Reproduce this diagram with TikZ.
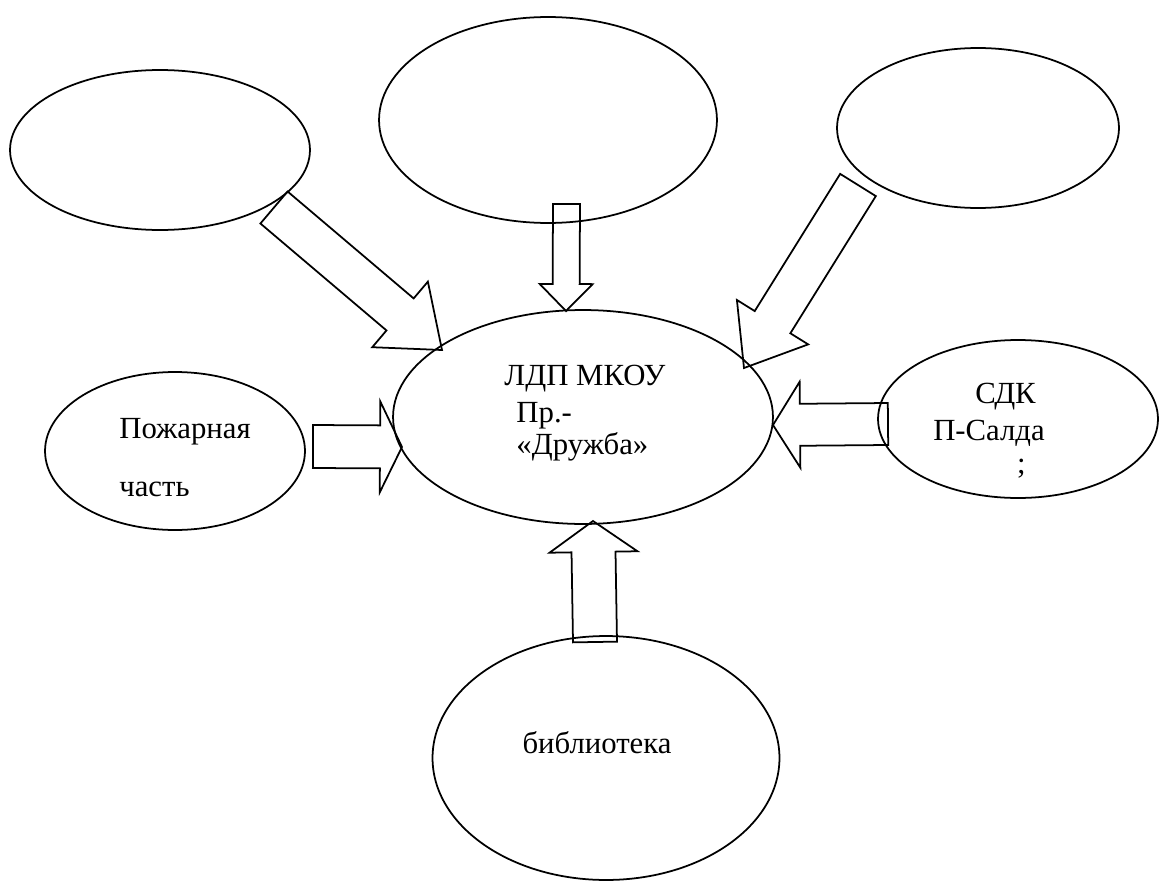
\documentclass[tikz,border=0pt]{standalone}
\usepackage{fontspec}
\setmainfont{Liberation Serif}
\newfontfamily\schemefont{Liberation Serif}
\usetikzlibrary{shapes.geometric}
\usetikzlibrary{calc}
\tikzset{x=0.02cm, y=-0.02cm,
    bubble/.style={
        ellipse,
        draw,
        line width=1pt,
        inner sep=0pt},
    txt/.style={
        font=\schemefont\fontsize{17.5}{21}\selectfont,
        align=left,
        inner sep=0pt},
    blockarr/.style={
        draw,
        line width=1pt,
        line join=miter}}

% tail, tip, shaft half width, head half width, head length
\newcommand\blockarrow[5]{%
    \draw[blockarr] ($(#1)!#3!90:(#2)$)
        -- ($(#2)!#5!(#1)!#3!-90:(#1)$)
        -- ($(#2)!#5!(#1)!#4!-90:(#1)$)
        -- (#2)
        -- ($(#2)!#5!(#1)!#4!90:(#1)$)
        -- ($(#2)!#5!(#1)!#3!90:(#1)$)
        -- ($(#1)!#3!-90:(#2)$) -- cycle;}

\begin{document}
\begin{tikzpicture}
    \useasboundingbox (0,0) rectangle (1160,889);

    \node[bubble, minimum width=6cm, minimum height=3.2cm] (blankl) at (160,150) {};
    \node[bubble, minimum width=6.76cm, minimum height=4.12cm] (blankc) at (548,120) {};
    \node[bubble, minimum width=5.64cm, minimum height=3.2cm] (blankr) at (978,128) {};
    \node[bubble, minimum width=7.6cm, minimum height=4.28cm] (ldp) at (583,417) {};
    \node[bubble, minimum width=5.2cm, minimum height=3.16cm] (fire) at (175,451) {};
    \node[bubble, minimum width=5.6cm, minimum height=3.16cm] (sdk) at (1018,419) {};
    \node[bubble, minimum width=6.94cm, minimum height=4.88cm] (lib) at (606,758) {};

    \node[txt] (ldptext) at ([shift={(2,-4)}]ldp.center)
        {ЛДП МКОУ\\\hspace*{0.24cm}Пр.-\\[-3pt]\hspace*{0.24cm}«Дружба»};
    \node[txt] (firetext) at ([shift={(10,7)}]fire.center) {Пожарная\\[12pt]часть};
    \node[txt] (sdktext) at ([shift={(-29,12)}]sdk.center)
        {\hspace*{0.84cm}СДК\\П-Салда\\[-2pt]\hspace*{1.68cm};};
    \node[txt] (libtext) at ([shift={(-9,-15)}]lib.center) {библиотека};

    \coordinate (blankl-out) at (274,207.5);
    \coordinate (blankc-out) at (566.5,204);
    \coordinate (blankr-out) at (858,185);
    \coordinate (fire-out) at (313,446.5);
    \coordinate (sdk-out) at (888,424);
    \coordinate (lib-out) at (595,642);
    \coordinate (ldp-nw) at (442,350);
    \coordinate (ldp-n) at (566,311);
    \coordinate (ldp-ne) at (744,368);
    \coordinate (ldp-w) at (402,447);
    \coordinate (ldp-e) at (773,425);
    \coordinate (ldp-s) at (593,521);

    \blockarrow{blankl-out}{ldp-nw}{0.42cm}{0.86cm}{1.1cm}
    \blockarrow{blankc-out}{ldp-n}{0.27cm}{0.53cm}{0.54cm}
    \blockarrow{blankr-out}{ldp-ne}{0.42cm}{0.84cm}{1.08cm}
    \blockarrow{fire-out}{ldp-w}{0.43cm}{0.91cm}{0.44cm}
    \blockarrow{sdk-out}{ldp-e}{0.42cm}{0.86cm}{0.54cm}
    \blockarrow{lib-out}{ldp-s}{0.44cm}{0.88cm}{0.62cm}
\end{tikzpicture}
\end{document}
